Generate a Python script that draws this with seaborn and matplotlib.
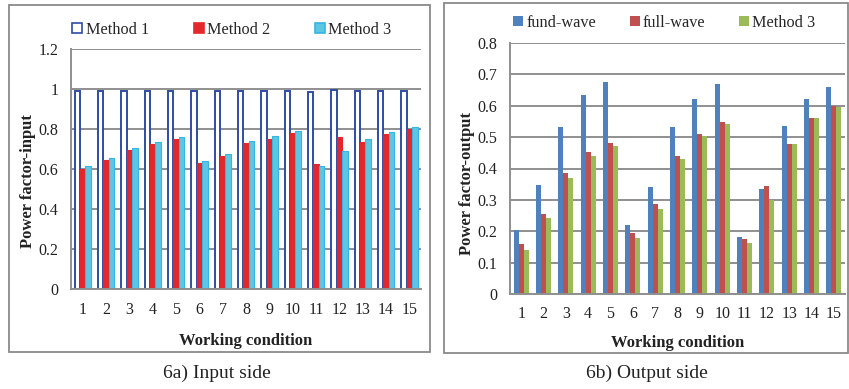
import matplotlib
matplotlib.use("Agg")
import matplotlib.pyplot as plt
from matplotlib.patches import Patch, Rectangle
import numpy as np
import pandas as pd
import seaborn as sns

# ---- data -------------------------------------------------------------
conditions = [str(i) for i in range(1, 16)]

input_method1 = [0.988, 0.992, 0.992, 0.992, 0.992, 0.992, 0.992, 0.992,
                 0.992, 0.992, 0.987, 0.995, 0.992, 0.992, 0.992]
input_method2 = [0.598, 0.647, 0.697, 0.725, 0.748, 0.628, 0.665, 0.728,
                 0.752, 0.780, 0.625, 0.758, 0.735, 0.775, 0.798]
input_method3 = [0.615, 0.653, 0.703, 0.733, 0.758, 0.640, 0.677, 0.742,
                 0.765, 0.792, 0.617, 0.692, 0.748, 0.783, 0.808]

output_fund = [0.203, 0.347, 0.532, 0.633, 0.675, 0.221, 0.340, 0.533,
               0.621, 0.670, 0.182, 0.336, 0.534, 0.622, 0.660]
output_full = [0.159, 0.256, 0.387, 0.451, 0.481, 0.194, 0.288, 0.439,
               0.511, 0.547, 0.176, 0.345, 0.479, 0.561, 0.600]
output_m3 = [0.140, 0.241, 0.369, 0.441, 0.473, 0.177, 0.272, 0.430,
             0.502, 0.541, 0.162, 0.300, 0.478, 0.560, 0.595]

left_series = ["Method 1", "Method 2", "Method 3"]
right_series = ["fund-wave", "full-wave", "Method 3"]

# ---- style ------------------------------------------------------------
sns.set_theme(style="white")
plt.rcParams["font.family"] = ["Liberation Serif", "DejaVu Serif"]
plt.rcParams["axes.unicode_minus"] = False

GRID = "#8f8f8f"
TXT = "#222222"
TICK_FS = 11.5
LABEL_FS = 12
LEGEND_FS = 11.7

W, H = 849, 389
fig = plt.figure(figsize=(W / 100, H / 100), dpi=100)
fig.patch.set_facecolor("white")


def frac(x0, y0, x1, y1):
    """pixel box -> figure fraction rect"""
    return [x0 / W, 1 - y1 / H, (x1 - x0) / W, (y1 - y0) / H]


def long_frame(series_names, columns):
    rows = []
    for name, vals in zip(series_names, columns):
        for c, v in zip(conditions, vals):
            rows.append({"cond": c, "series": name, "value": v})
    return pd.DataFrame(rows)


def style_axes(ax, ymax, step, ylabel):
    ax.set_ylim(0, ymax)
    ax.set_xlim(-0.5, len(conditions) - 0.5)
    ticks = np.round(np.arange(0, ymax + step / 2, step), 2)
    ax.set_yticks(ticks)
    ax.set_yticklabels([f"{t:g}" for t in ticks])
    ax.yaxis.grid(True, color=GRID, linewidth=1.4)
    ax.set_axisbelow(True)
    for s in ["top", "right"]:
        ax.spines[s].set_visible(False)
    for s in ["left", "bottom"]:
        ax.spines[s].set_visible(True)
        ax.spines[s].set_color(GRID)
        ax.spines[s].set_linewidth(1.4)
    ax.tick_params(axis="y", length=3, width=1.2, color=GRID, pad=6,
                   labelsize=TICK_FS, labelcolor=TXT)
    ax.tick_params(axis="x", length=0, pad=9, labelsize=TICK_FS,
                   labelcolor=TXT)
    ax.set_xlabel("Working condition", fontsize=LABEL_FS, fontweight="bold",
                  color=TXT)
    ax.set_ylabel(ylabel, fontsize=LABEL_FS, fontweight="bold", color=TXT)


# ---- left panel: input side -------------------------------------------
axL = fig.add_axes(frac(71, 49, 421, 289))
dfL = long_frame(left_series, [input_method1, input_method2, input_method3])
left_fill = ["#ffffff", "#e2282d", "#5fc6df"]
left_edge = ["#2f4ea3", "#e8262a", "#33b5e8"]
sns.barplot(data=dfL, x="cond", y="value", hue="series", order=conditions,
            hue_order=left_series, palette=left_fill, width=0.7,
            errorbar=None, legend=False, ax=axL, saturation=1)
for cont, fc, ec in zip(axL.containers, left_fill, left_edge):
    for bar in cont:
        bar.set_facecolor(fc)
        bar.set_edgecolor(ec)
        bar.set_linewidth(1.4 if fc == "#ffffff" else 0.8)
style_axes(axL, 1.2, 0.2, "Power factor-input")
axL.xaxis.set_label_coords(0.5, -0.185)
axL.yaxis.set_label_coords(-0.1, 0.45)
handlesL = [Patch(facecolor=f, edgecolor=e, linewidth=1.2)
            for f, e in zip(left_fill, left_edge)]
axL.legend(handlesL, left_series, loc="center left",
           bbox_to_anchor=(-0.015, 1.08), ncol=3, frameon=False,
           handlelength=0.62, handleheight=0.62, handletextpad=0.2,
           columnspacing=2.75, fontsize=LEGEND_FS, borderaxespad=0)

# ---- right panel: output side -----------------------------------------
axR = fig.add_axes(frac(510, 43, 845, 294))
dfR = long_frame(right_series, [output_fund, output_full, output_m3])
right_fill = ["#4f81bd", "#c0504d", "#9bbb59"]
sns.barplot(data=dfR, x="cond", y="value", hue="series", order=conditions,
            hue_order=right_series, palette=right_fill, width=0.66,
            errorbar=None, legend=False, ax=axR, saturation=1)
for cont in axR.containers:
    for bar in cont:
        bar.set_edgecolor("none")
style_axes(axR, 0.8, 0.1, "Power factor-output")
axR.xaxis.set_label_coords(0.5, -0.163)
axR.yaxis.set_label_coords(-0.104, 0.44)
handlesR = [Patch(facecolor=f, edgecolor="none") for f in right_fill]
axR.legend(handlesR, right_series, loc="center left",
           bbox_to_anchor=(-0.01, 1.08), ncol=3, frameon=False,
           handlelength=0.62, handleheight=0.62, handletextpad=0.2,
           columnspacing=2.05, fontsize=LEGEND_FS, borderaxespad=0)

# ---- panel frames and captions ----------------------------------------
for x0, y0, x1, y1 in [(9, 5, 430, 352), (444, 3, 848, 353)]:
    fig.patches.append(Rectangle((x0 / W, 1 - y1 / H), (x1 - x0) / W,
                                 (y1 - y0) / H, transform=fig.transFigure,
                                 fill=False, edgecolor="#8a8a8a",
                                 linewidth=1.3))

fig.text(217 / W, 1 - 373 / H, "6a) Input side", ha="center", va="center",
         fontsize=14, color=TXT)
fig.text(647 / W, 1 - 373 / H, "6b) Output side", ha="center", va="center",
         fontsize=14, color=TXT)

fig.savefig("out.png", dpi=100, facecolor="white")
